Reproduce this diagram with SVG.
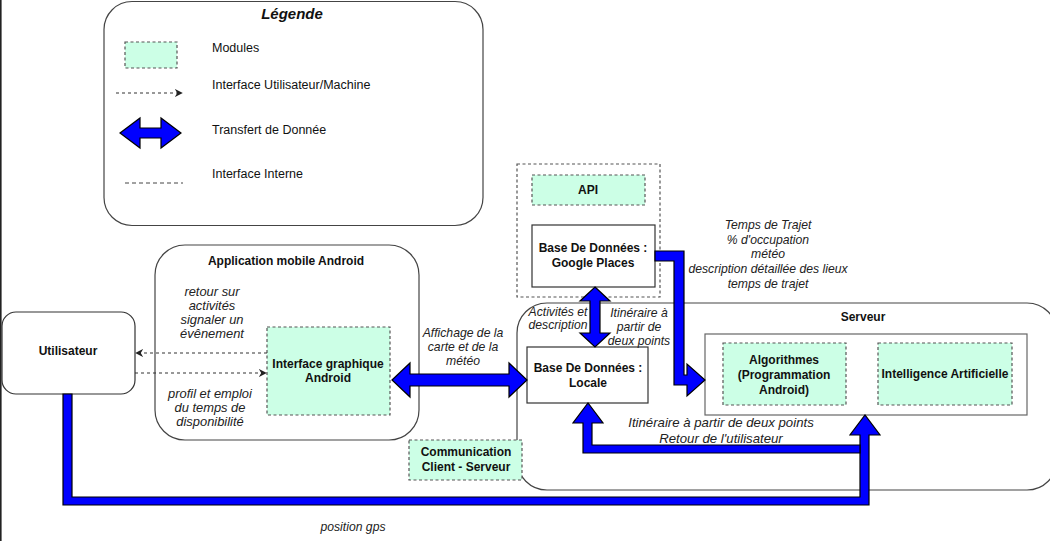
<svg xmlns="http://www.w3.org/2000/svg" width="1050" height="541" viewBox="0 0 1050 541">
<defs>
<marker id="ah" viewBox="0 0 10 10" refX="9" refY="5" markerWidth="8" markerHeight="8" markerUnits="userSpaceOnUse" orient="auto">
<path d="M0,0 L10,5 L0,10 L3,5 Z" fill="#222"/>
</marker>
</defs>
<style>
text{font-family:"Liberation Sans",Arial,sans-serif;fill:#111;}
.b{font-weight:bold;font-size:12px;text-anchor:middle;}
.i{font-style:italic;font-size:12.2px;text-anchor:middle;fill:#222;}
.lg{font-size:12.5px;}
.cont{fill:#fff;stroke:#444;stroke-width:1.2;}
.box{fill:#fff;stroke:#333;stroke-width:1.2;}
.mod{fill:#ccffe6;stroke:#555;stroke-width:1.2;stroke-dasharray:3 2.5;}
.dot{fill:none;stroke:#555;stroke-width:1.2;stroke-dasharray:3 2.5;}
.ui{fill:none;stroke:#333;stroke-width:1.2;stroke-dasharray:3 3;marker-end:url(#ah);}
.blue{fill:#0000ff;stroke:#000;stroke-width:1.2;stroke-linejoin:miter;}
</style>
<rect x="0" y="0" width="1050" height="541" fill="#fff"/>
<rect x="0" y="0" width="1.6" height="541" fill="#222"/>

<g id="legende">
<rect class="cont" x="104" y="1.5" width="379" height="224" rx="28"/>
<text x="292" y="19" style="font-weight:bold;font-style:italic;font-size:15px;text-anchor:middle">Légende</text>
<rect class="mod" x="125" y="42" width="52" height="26"/>
<text class="lg" x="212" y="52">Modules</text>
<line class="ui" x1="116" y1="93" x2="182" y2="93"/>
<text class="lg" x="212" y="89">Interface Utilisateur/Machine</text>
<polygon class="blue" points="120,133 140,118 140,128 161,128 161,118 181,133 161,148 161,138 140,138 140,148"/>
<text class="lg" x="212" y="134">Transfert de Donnée</text>
<line x1="125" y1="183" x2="183" y2="183" stroke="#444" stroke-width="1" stroke-dasharray="4 3"/>
<text class="lg" x="212" y="178">Interface Interne</text>
</g>

<g id="app">
<rect class="cont" x="155" y="245" width="264" height="195" rx="30"/>
<text class="b" x="286" y="265">Application mobile Android</text>
</g>

<g id="serveur">
<rect class="cont" x="517" y="303" width="540" height="187" rx="30"/>
<text class="b" x="863" y="321">Serveur</text>
<rect x="705" y="334" width="322" height="81" fill="#fff" stroke="#666" stroke-width="1.2"/>
</g>

<g id="api-container">
<rect class="dot" x="517" y="164" width="143" height="133"/>
</g>

<g id="utilisateur">
<rect class="box" x="2" y="312" width="133" height="82" rx="14" stroke="#444"/>
<text class="b" x="68" y="355">Utilisateur</text>
</g>

<g id="interface-graphique">
<rect class="mod" x="267" y="327" width="123" height="88"/>
<text class="b" x="328" y="368">Interface graphique</text>
<text class="b" x="328" y="382">Android</text>
</g>

<g id="api">
<rect class="mod" x="532" y="175" width="113" height="30"/>
<text class="b" x="588" y="194">API</text>
</g>

<g id="google-places">
<rect class="box" x="532" y="225" width="123" height="62"/>
<text class="b" x="593" y="252">Base De Données :</text>
<text class="b" x="593" y="267">Google Places</text>
</g>

<g id="locale">
<rect class="box" x="527" y="347" width="121" height="56"/>
<text class="b" x="588" y="372">Base De Données :</text>
<text class="b" x="588" y="387">Locale</text>
</g>

<g id="algorithmes">
<rect class="mod" x="723" y="343" width="123" height="62"/>
<text class="b" x="784" y="364">Algorithmes</text>
<text class="b" x="784" y="379">(Programmation</text>
<text class="b" x="784" y="394">Android)</text>
</g>

<g id="ia">
<rect class="mod" x="878" y="343" width="134" height="62"/>
<text class="b" x="945" y="378">Intelligence Artificielle</text>
</g>

<g id="communication">
<rect class="mod" x="409" y="440" width="113" height="40"/>
<text class="b" x="466" y="456">Communication</text>
<text class="b" x="466" y="471">Client - Serveur</text>
</g>

<g id="connecteurs">
<line class="ui" x1="267" y1="353" x2="136" y2="353"/>
<line class="ui" x1="135" y1="373" x2="266" y2="373"/>
<polygon class="blue" points="392,380 410,363 410,374 509,374 509,363 527,380 509,397 509,386 410,386 410,397"/>
<polygon class="blue" points="595,287 610,301 600,301 600,333 610,333 595,347 580,333 590,333 590,301 580,301"/>
<polygon class="blue" points="655,251 684,251 684,375 687,375 687,364 705,380 687,396 687,385 674,385 674,261 655,261"/>
<polygon class="blue" points="63,394 72,394 72,497 860,497 860,435 850,435 865,415 880,435 869,435 869,505 63,505"/>
<polygon class="blue" points="860,445 592,445 592,423 603,423 588,403 573,423 583,423 583,453 860,453"/>
</g>

<g id="labels">
<text class="i" style="font-size:12.9px"><tspan x="212" y="296">retour sur</tspan><tspan x="212" y="310">activités</tspan><tspan x="212" y="324">signaler un</tspan><tspan x="212" y="338">évênement</tspan></text>
<text class="i" style="font-size:12.9px"><tspan x="210" y="398">profil et emploi</tspan><tspan x="210" y="412">du temps de</tspan><tspan x="210" y="426">disponibilité</tspan></text>
<text class="i"><tspan x="463" y="337">Affichage de la</tspan><tspan x="463" y="351">carte et de la</tspan><tspan x="463" y="365">météo</tspan></text>
<text class="i"><tspan x="558" y="316">Activités et</tspan><tspan x="558" y="329">description</tspan></text>
<text class="i"><tspan x="639" y="317">Itinéraire à</tspan><tspan x="639" y="331">partir de</tspan><tspan x="639" y="345">deux points</tspan></text>
<text class="i"><tspan x="768" y="229">Temps de Trajet</tspan><tspan x="768" y="244">% d'occupation</tspan><tspan x="768" y="258">météo</tspan><tspan x="768" y="273">description détaillée des lieux</tspan><tspan x="768" y="288">temps de trajet</tspan></text>
<text class="i" style="font-size:13.2px"><tspan x="721" y="427">Itinéraire à partir de deux points</tspan><tspan x="721" y="443">Retour de l'utilisateur</tspan></text>
<text class="i" x="353" y="531">position gps</text>
</g>
</svg>
